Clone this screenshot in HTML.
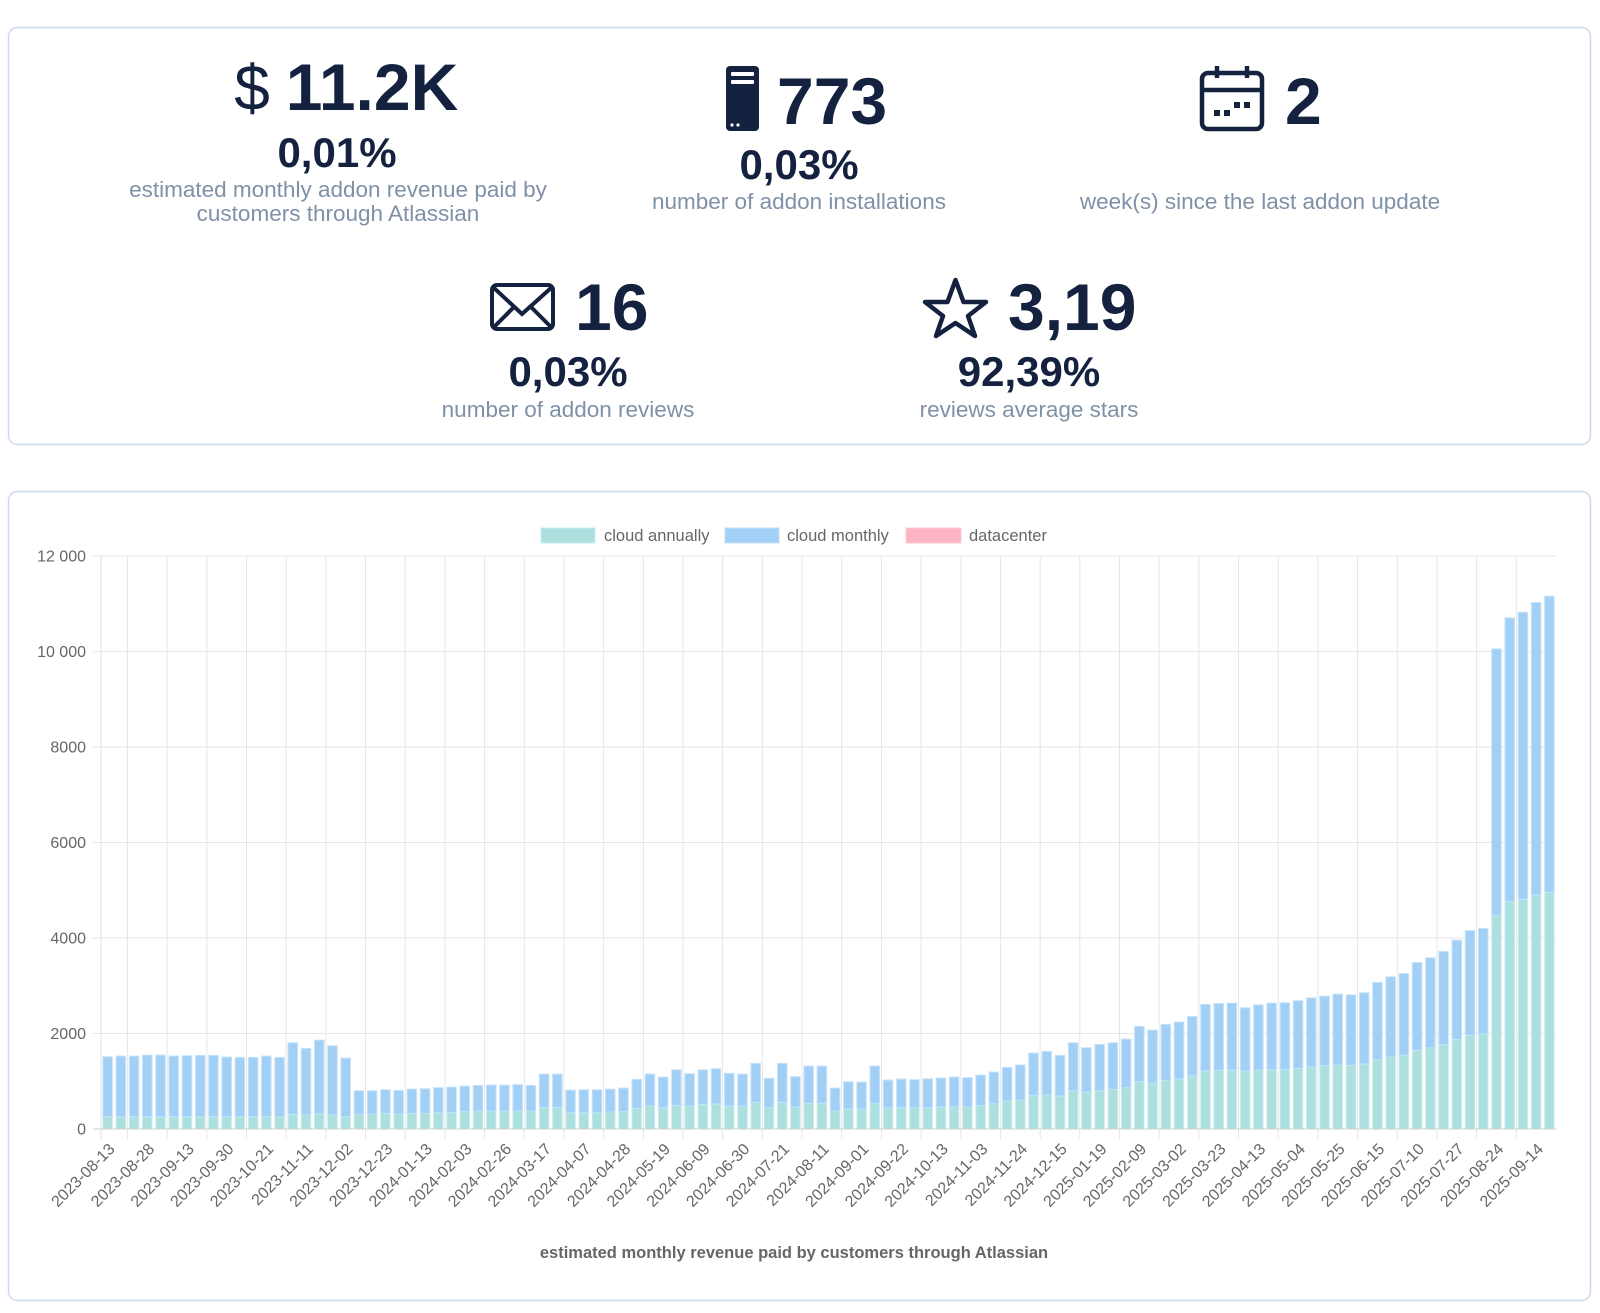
<!DOCTYPE html>
<html><head><meta charset="utf-8"><style>
html,body{margin:0;padding:0;background:#fff;width:1600px;height:1313px;overflow:hidden}
svg{display:block}
</style></head><body>
<svg id="page" width="1600" height="1313" viewBox="0 0 1600 1313" xmlns="http://www.w3.org/2000/svg" font-family="Liberation Sans, sans-serif">
<rect x="8.5" y="27.5" width="1582" height="417" rx="9" fill="#fff" stroke="#c9dcef" stroke-width="1.5"/>
<g fill="#14213f">
  <text x="252" y="110" font-size="64" text-anchor="middle">$</text>
  <text x="372" y="110" font-size="66" font-weight="bold" text-anchor="middle">11.2K</text>
  <text x="337" y="167" font-size="42" font-weight="bold" text-anchor="middle">0,01%</text>
  <text x="338" y="197" font-size="22.5" fill="#7f91a7" text-anchor="middle">estimated monthly addon revenue paid by</text>
  <text x="338" y="221" font-size="22.5" fill="#7f91a7" text-anchor="middle">customers through Atlassian</text>
</g>
<g fill="#14213f">
  <g>
    <rect x="726" y="66" width="33" height="65" rx="4" fill="#14213f"/>
    <rect x="731" y="72" width="23" height="4" rx="1" fill="#fff"/>
    <rect x="731" y="80" width="23" height="4" rx="1" fill="#fff"/>
    <circle cx="732" cy="125" r="1.6" fill="#fff"/><circle cx="738" cy="125" r="1.6" fill="#fff"/>
  </g>
  <text x="777" y="124" font-size="66" font-weight="bold">773</text>
  <text x="799" y="179" font-size="42" font-weight="bold" text-anchor="middle">0,03%</text>
  <text x="799" y="209" font-size="22.5" fill="#7f91a7" text-anchor="middle">number of addon installations</text>
</g>
<g fill="#14213f">
  <g fill="none" stroke="#14213f" stroke-width="4.5">
    <rect x="1202" y="73" width="60" height="56" rx="6"/>
    <line x1="1202" y1="90" x2="1262" y2="90"/>
    <line x1="1217" y1="66" x2="1217" y2="78"/><line x1="1247" y1="66" x2="1247" y2="78"/>
    <g fill="#14213f" stroke="none"><rect x="1214" y="110" width="6" height="6"/><rect x="1224" y="110" width="6" height="6"/><rect x="1234" y="102" width="6" height="6"/><rect x="1244" y="102" width="6" height="6"/></g>
  </g>
  <text x="1285" y="124" font-size="66" font-weight="bold">2</text>
  <text x="1260" y="209" font-size="22.5" fill="#7f91a7" text-anchor="middle">week(s) since the last addon update</text>
</g>
<g fill="#14213f">
  <g fill="none" stroke="#14213f" stroke-width="4">
    <rect x="492" y="285" width="61" height="44" rx="5"/>
    <polyline points="494,288 522,314 551,288"/>
    <line x1="494" y1="327" x2="514" y2="307"/><line x1="551" y1="327" x2="531" y2="307"/>
  </g>
  <text x="575" y="330" font-size="66" font-weight="bold">16</text>
  <text x="568" y="386" font-size="42" font-weight="bold" text-anchor="middle">0,03%</text>
  <text x="568" y="417" font-size="22.5" fill="#7f91a7" text-anchor="middle">number of addon reviews</text>
</g>
<g fill="#14213f">
  <polygon points="955.5,280 963.5,302 986,302 968,316 975,336 955.5,323 936,336 943,316 925,302 947.5,302" fill="none" stroke="#14213f" stroke-width="4.5" stroke-linejoin="round"/>
  <text x="1008" y="330" font-size="66" font-weight="bold">3,19</text>
  <text x="1029" y="386" font-size="42" font-weight="bold" text-anchor="middle">92,39%</text>
  <text x="1029" y="417" font-size="22.5" fill="#7f91a7" text-anchor="middle">reviews average stars</text>
</g>

<rect x="8.5" y="491.5" width="1582" height="809" rx="9" fill="#fff" stroke="#c9dcef" stroke-width="1.5"/>
<g id="chart"></g>
<g font-size="16.5" fill="#666">
  <g><rect x="541" y="528" width="54" height="15" fill="#addfde" stroke="#c8eeee"/><text x="604" y="541">cloud annually</text></g>
  <g><rect x="725" y="528" width="54" height="15" fill="#a2cff5" stroke="#c4e2fa"/><text x="787" y="541">cloud monthly</text></g>
  <g><rect x="906" y="528" width="55" height="15" fill="#ffb4c3" stroke="#ffc9d4"/><text x="969" y="541">datacenter</text></g>
</g>
<text x="794" y="1258" font-size="16.5" font-weight="bold" fill="#666" text-anchor="middle">estimated monthly revenue paid by customers through Atlassian</text>
</svg>
<script>
const tickLabels = ["2023-08-13","2023-08-28","2023-09-13","2023-09-30","2023-10-21","2023-11-11","2023-12-02","2023-12-23","2024-01-13","2024-02-03","2024-02-26","2024-03-17","2024-04-07","2024-04-28","2024-05-19","2024-06-09","2024-06-30","2024-07-21","2024-08-11","2024-09-01","2024-09-22","2024-10-13","2024-11-03","2024-11-24","2024-12-15","2025-01-19","2025-02-09","2025-03-02","2025-03-23","2025-04-13","2025-05-04","2025-05-25","2025-06-15","2025-07-10","2025-07-27","2025-08-24","2025-09-14"];
const tickEvery = 3;
const barCount = 110;
const cloudAnnually = [258,258,258,258,258,258,258,258,258,258,258,258,258,258,307,293,321,293,258,314,314,328,314,328,328,342,342,363,377,377,377,377,377,453,453,342,342,
342,356,363,432,481,453,495,481,516,523,481,481,558,446,558,460,537,537,377,418,418,537,439,446,446,446,460,460,460,488,530,
586,607,704,711,690,802,774,802,830,865,990,962,1018,1046,1109,1220,1234,1241,1213,1234,1241,1248,1269,1297,1325,1339,1332,1360,
1458,1506,1548,1653,1701,1764,1883,1966,1994,4477,4770,4812,4902,4958];
const cloudMonthly = [1255,1269,1269,1290,1290,1269,1276,1283,1283,1248,1241,1241,1269,1241,1499,1394,1541,1450,1227,487,487,494,494,508,515,522,536,536,536,543,543,550,536,697,697,473,480,
480,480,494,607,669,635,746,676,725,739,684,669,816,614,816,635,781,781,480,572,565,781,586,600,586,607,607,628,614,642,662,
704,732,886,914,851,1004,927,969,976,1018,1158,1109,1172,1193,1248,1388,1395,1395,1325,1367,1395,1395,1416,1450,1457,1485,1478,1492,
1610,1681,1708,1833,1883,1953,2071,2190,2204,5579,5935,6010,6123,6199];
const datacenter = new Array(110).fill(0);
const yTicks = [0,2000,4000,6000,8000,10000,12000];
const yTickLabels = ["0","2000","4000","6000","8000","10 000","12 000"];

const NS = "http://www.w3.org/2000/svg";
const g = document.getElementById('chart');
const L = 101, R = 1556, T = 556, B = 1129, YMAX = 12000;
const band = (R - L) / barCount;
const xC = i => L + (i + 0.5) * band;
const yS = v => B - v / YMAX * (B - T);
function mk(tag, attrs){ const e = document.createElementNS(NS, tag); for (const k in attrs) e.setAttribute(k, attrs[k]); g.appendChild(e); return e; }

yTicks.forEach((v, i) => {
  const ln = mk('line', {x1: L - 8, x2: R, y1: yS(v), y2: yS(v), stroke: v === 0 ? '#d0d0d0' : '#e6e6e6', 'stroke-width': 1});
  
  
  const t = mk('text', {x: L - 15, y: yS(v) + 5.5, 'text-anchor': 'end', 'font-size': 16, fill: '#666'});
  t.textContent = yTickLabels[i];
  
  
});
const ax = mk('line', {x1: L, x2: L, y1: T, y2: B + 10, stroke: '#e0e0e0'});


tickLabels.forEach((lab, k) => {
  const xe = L + (k * tickEvery + 2) * band;
  if (xe < R) {
    const gl = mk('line', {x1: xe, x2: xe, y1: T, y2: B + 10, stroke: '#e6e6e6'});
    
    
  }
  const cx = xC(k * tickEvery) + 8;
  const t = mk('text', {x: cx, y: B + 21, 'text-anchor': 'end', 'font-size': 16, fill: '#666', transform: `rotate(-45 ${cx} ${B + 21})`});
  t.textContent = lab;
  
  
});
const bw = band * 0.72;
for (let i = 0; i < barCount; i++) {
  const a = cloudAnnually[i], m = cloudMonthly[i], d = datacenter[i];
  const ra = mk('rect', {x: xC(i) - bw/2, y: yS(a), width: bw, height: yS(0) - yS(a), fill: '#addfde', stroke: '#c8eeee', 'stroke-width': 1});
  
  
  const rm = mk('rect', {x: xC(i) - bw/2, y: yS(a + m), width: bw, height: yS(a) - yS(a + m), fill: '#a2cff5', stroke: '#c4e2fa', 'stroke-width': 1});
  
  
  if (d > 0) {
    const rd = mk('rect', {x: xC(i) - bw/2, y: yS(a + m + d), width: bw, height: yS(a + m) - yS(a + m + d), fill: '#ffb4c3'});
    
    
  }
}
const bl = mk('line', {x1: L, x2: R, y1: B, y2: B, stroke: '#d0d0d0'});


</script>
</body></html>
